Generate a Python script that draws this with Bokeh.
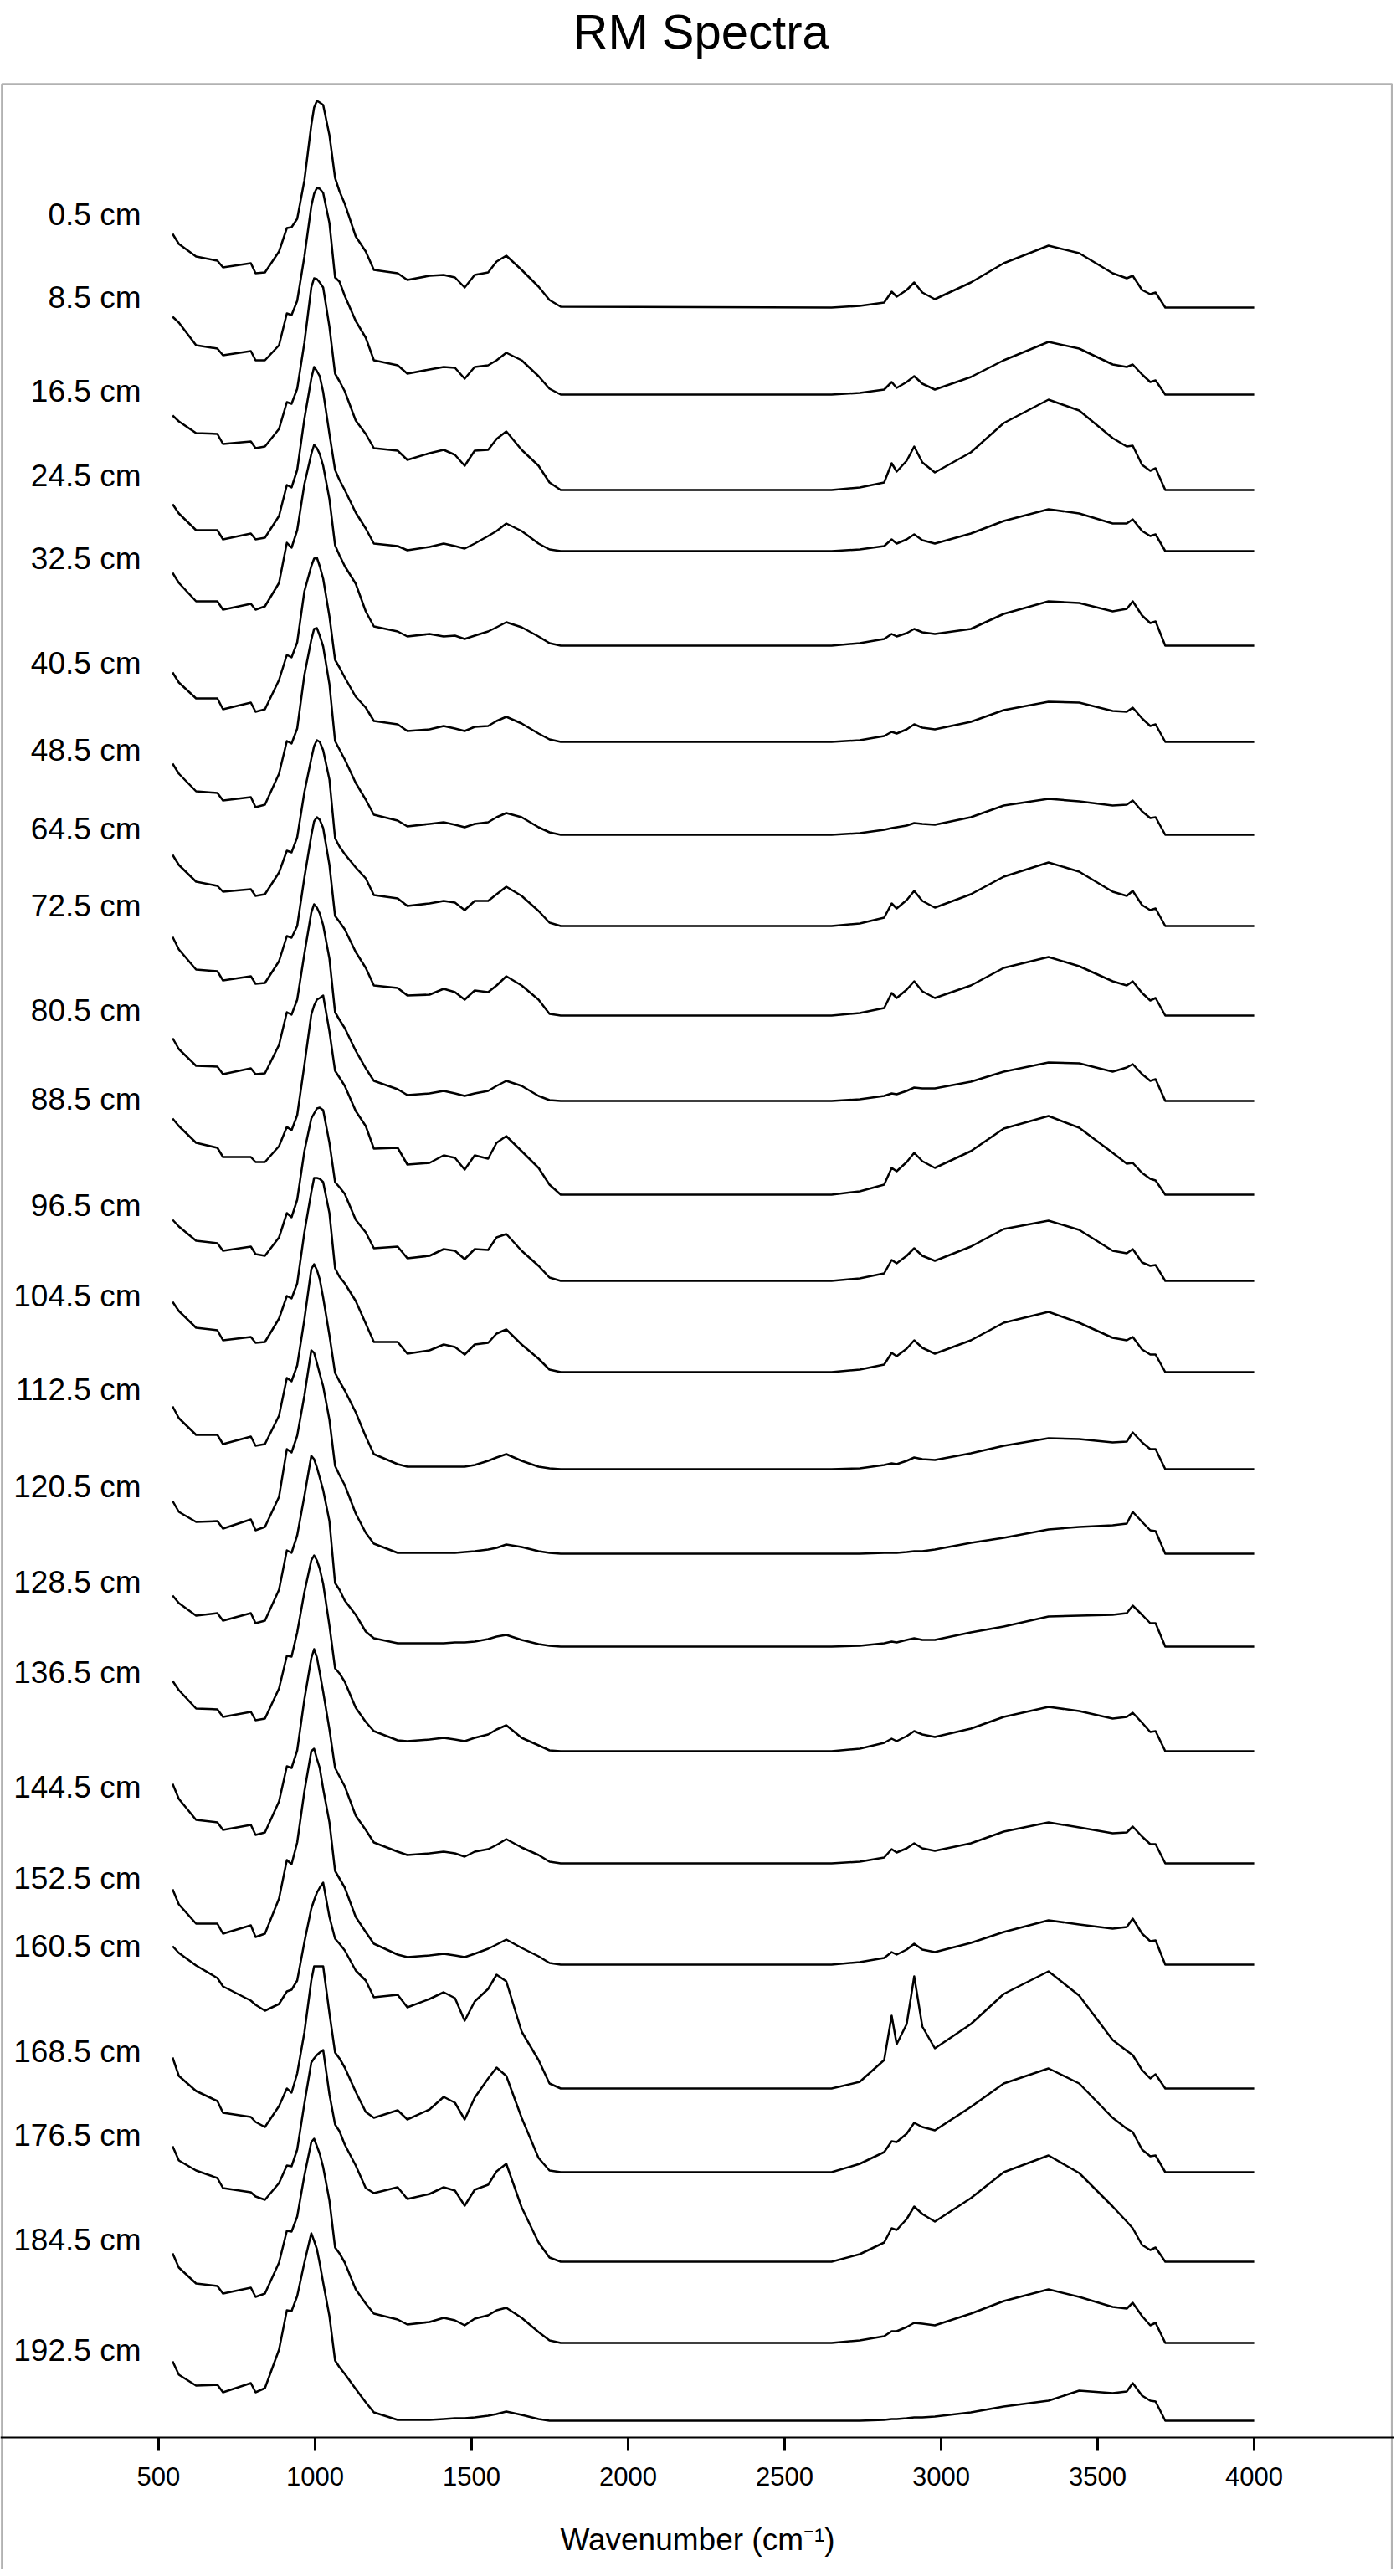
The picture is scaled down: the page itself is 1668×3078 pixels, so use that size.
from bokeh.plotting import figure
from bokeh.models import Range1d, LinearAxis, FixedTicker, BoxAnnotation, Label, ColumnDataSource
from bokeh.core.properties import value
from bokeh.embed import file_html
from bokeh.resources import INLINE

# ---------------- data ----------------
# wavenumber grid (cm-1) shared by all spectra
wavenumber = [545, 565, 620, 688, 706, 795, 810, 840, 885, 910, 925, 943, 966, 988, 997,
              1006, 1015, 1026, 1046, 1064, 1078, 1095, 1130, 1162, 1188, 1264, 1295, 1366,
              1411, 1447, 1478, 1510, 1553, 1580, 1611, 1660, 1714, 1749, 1785,
              2650, 2740, 2818, 2842, 2858, 2890, 2914, 2940, 2980, 3095, 3200, 3343, 3441,
              3548, 3593, 3612, 3642, 3668, 3685, 3716, 4000]

depth_labels = ["0.5 cm", "8.5 cm", "16.5 cm", "24.5 cm", "32.5 cm", "40.5 cm", "48.5 cm",
                "64.5 cm", "72.5 cm", "80.5 cm", "88.5 cm", "96.5 cm", "104.5 cm", "112.5 cm",
                "120.5 cm", "128.5 cm", "136.5 cm", "144.5 cm", "152.5 cm", "160.5 cm",
                "168.5 cm", "176.5 cm", "184.5 cm", "192.5 cm"]

# vertical stacking offset of each spectrum (a.u.)
baseline = [25.45, 24.41, 23.27, 22.54, 21.41, 20.26, 19.15, 18.06, 16.99, 15.97, 14.85, 13.82,
            12.73, 11.57, 10.56, 9.45, 8.20, 6.86, 5.65, 4.17, 3.17, 2.10, 1.13, 0.20]

# level of each depth label (a.u.)
label_level = [26.56, 25.57, 24.45, 23.44, 22.45, 21.20, 20.16, 19.22, 18.30, 17.05, 15.99, 14.72,
               13.64, 12.52, 11.36, 10.22, 9.14, 7.77, 6.68, 5.87, 4.61, 3.61, 2.36, 1.04]

tick_values = [500, 1000, 1500, 2000, 2500, 3000, 3500, 4000]

# absorbance above baseline, in 0.01 a.u.
a_0_5 = [88, 76, 61, 56, 48, 53, 41, 42, 67, 95, 96, 106, 152, 218, 239, 247, 245, 242, 206, 155, 139, 124, 85, 67, 45, 41, 33, 38, 39, 36, 24, 39, 42, 55, 62, 45, 25, 9, 1,
         0, 2, 6, 19, 13, 21, 30, 18, 10, 30, 53, 74, 65, 41, 35, 38, 21, 16, 18, 0, 0]
a_8_5 = [93, 86, 59, 55, 47, 52, 41, 41, 59, 97, 95, 112, 165, 225, 240, 247, 246, 241, 205, 140, 135, 118, 88, 68, 41, 35, 25, 30, 33, 32, 19, 33, 35, 41, 50, 41, 22, 7, 0,
         0, 2, 6, 15, 8, 15, 22, 13, 6, 21, 41, 63, 55, 36, 33, 36, 24, 15, 17, 0, 0]
a_16_5 = [89, 82, 68, 67, 55, 58, 50, 52, 73, 105, 103, 121, 176, 242, 253, 252, 248, 242, 195, 139, 130, 118, 83, 67, 50, 47, 36, 44, 48, 42, 29, 47, 48, 61, 70, 48, 29, 9, 0,
          0, 3, 9, 32, 22, 35, 52, 33, 21, 45, 80, 108, 95, 62, 52, 53, 30, 23, 26, 0, 0]
a_24_5 = [56, 45, 25, 25, 14, 21, 14, 16, 42, 79, 76, 97, 158, 206, 220, 215, 209, 190, 140, 97, 85, 73, 46, 27, 9, 6, 1, 5, 9, 6, 3, 9, 18, 24, 33, 24, 9, 2, 0,
          0, 2, 6, 14, 9, 14, 20, 13, 9, 21, 36, 50, 45, 33, 33, 38, 24, 18, 20, 0, 0]
a_32_5 = [87, 75, 53, 53, 43, 50, 43, 47, 75, 123, 117, 138, 193, 229, 240, 236, 229, 215, 175, 120, 108, 95, 74, 41, 23, 17, 11, 14, 11, 12, 8, 12, 17, 22, 28, 22, 11, 3, 0,
          0, 3, 8, 14, 11, 15, 20, 16, 14, 20, 38, 53, 51, 41, 44, 53, 36, 27, 29, 0, 0]
a_40_5 = [83, 71, 52, 52, 39, 47, 36, 39, 74, 104, 101, 119, 180, 210, 219, 220, 210, 195, 150, 98, 89, 77, 54, 41, 25, 21, 13, 15, 19, 16, 13, 18, 19, 25, 30, 22, 10, 3, 0,
          0, 2, 7, 12, 10, 15, 21, 17, 15, 24, 38, 48, 47, 37, 36, 41, 28, 19, 21, 0, 0]
a_48_5 = [85, 73, 52, 50, 41, 45, 33, 36, 73, 112, 109, 127, 191, 233, 246, 247, 238, 225, 180, 112, 102, 90, 62, 42, 24, 17, 10, 13, 15, 12, 9, 13, 15, 21, 26, 21, 9, 3, 0,
          0, 2, 6, 8, 9, 11, 14, 13, 12, 21, 35, 43, 40, 35, 36, 41, 28, 20, 21, 0, 0]
a_64_5 = [85, 73, 53, 48, 41, 44, 36, 38, 64, 90, 88, 106, 160, 200, 215, 222, 220, 210, 175, 105, 95, 86, 70, 57, 37, 33, 24, 27, 30, 28, 19, 30, 30, 38, 47, 36, 18, 4, 0,
          0, 3, 10, 27, 21, 31, 42, 30, 22, 38, 59, 76, 65, 41, 36, 42, 25, 19, 21, 0, 0]
a_72_5 = [94, 79, 55, 53, 42, 47, 38, 39, 65, 95, 93, 107, 165, 215, 232, 237, 234, 224, 180, 119, 112, 103, 76, 57, 36, 33, 24, 25, 32, 28, 19, 30, 28, 36, 47, 36, 19, 2, 0,
          0, 3, 9, 27, 21, 31, 41, 29, 21, 36, 57, 70, 59, 41, 36, 41, 27, 18, 21, 0, 0]
a_80_5 = [75, 62, 42, 41, 32, 39, 32, 33, 67, 106, 103, 121, 176, 225, 235, 231, 224, 210, 170, 106, 97, 87, 60, 39, 24, 14, 7, 9, 12, 9, 6, 9, 12, 18, 24, 18, 6, 1, 0,
          0, 2, 6, 9, 8, 12, 16, 15, 15, 23, 35, 46, 45, 35, 40, 44, 32, 24, 26, 0, 0]
a_88_5 = [91, 82, 62, 56, 45, 45, 39, 39, 58, 81, 77, 95, 155, 215, 226, 233, 235, 238, 195, 148, 140, 130, 100, 82, 55, 56, 36, 38, 47, 44, 30, 47, 43, 62, 70, 52, 32, 12, 0,
          0, 4, 12, 32, 28, 39, 50, 40, 32, 52, 79, 94, 80, 50, 37, 38, 26, 19, 17, 0, 0]
a_96_5 = [73, 65, 48, 45, 36, 41, 32, 30, 52, 81, 76, 97, 155, 194, 200, 206, 207, 204, 165, 118, 112, 104, 73, 58, 39, 41, 27, 30, 38, 36, 26, 38, 37, 52, 56, 36, 18, 4, 0,
          0, 3, 9, 25, 21, 30, 39, 30, 24, 41, 62, 72, 61, 36, 33, 38, 22, 18, 19, 0, 0]
a_104_5 = [84, 73, 53, 50, 38, 42, 35, 36, 64, 91, 88, 106, 167, 215, 232, 232, 231, 227, 190, 124, 114, 106, 85, 58, 36, 36, 22, 26, 33, 30, 21, 33, 35, 46, 51, 33, 16, 3, 0,
           0, 3, 9, 23, 19, 28, 38, 29, 22, 38, 59, 72, 59, 41, 38, 42, 27, 21, 21, 0, 0]
a_112_5 = [75, 61, 41, 41, 30, 39, 28, 30, 64, 109, 105, 124, 179, 239, 245, 238, 227, 205, 160, 115, 105, 94, 68, 39, 18, 6, 3, 3, 3, 3, 3, 5, 10, 14, 18, 10, 3, 1, 0,
           0, 1, 5, 7, 6, 10, 14, 12, 11, 19, 28, 37, 36, 32, 33, 44, 32, 24, 24, 0, 0]
a_120_5 = [63, 50, 38, 39, 30, 41, 28, 32, 68, 125, 121, 141, 189, 243, 240, 228, 215, 200, 160, 105, 94, 82, 48, 25, 12, 1, 1, 1, 1, 1, 2, 3, 5, 7, 11, 8, 3, 1, 0,
           0, 0, 1, 1, 1, 2, 3, 3, 5, 13, 19, 29, 32, 34, 36, 50, 38, 28, 27, 0, 0]
a_128_5 = [61, 52, 37, 40, 31, 40, 28, 31, 68, 115, 112, 133, 180, 228, 224, 214, 202, 187, 150, 76, 68, 55, 38, 18, 10, 4, 4, 4, 4, 5, 5, 6, 9, 12, 14, 8, 3, 1, 0,
           0, 1, 4, 6, 5, 8, 10, 8, 8, 17, 24, 36, 37, 38, 40, 49, 38, 28, 28, 0, 0]
a_136_5 = [84, 73, 51, 50, 41, 47, 37, 39, 75, 114, 113, 142, 190, 228, 234, 228, 218, 200, 150, 99, 93, 83, 52, 35, 24, 13, 12, 14, 16, 14, 12, 16, 20, 26, 31, 16, 7, 1, 0,
           0, 3, 10, 15, 12, 18, 24, 20, 17, 27, 41, 53, 48, 39, 41, 46, 34, 23, 24, 0, 0]
a_144_5 = [95, 77, 52, 49, 40, 46, 34, 37, 74, 116, 114, 135, 196, 245, 256, 246, 228, 205, 160, 114, 104, 92, 57, 40, 25, 14, 10, 12, 14, 12, 8, 14, 17, 22, 29, 19, 10, 2, 0,
           0, 2, 7, 17, 13, 18, 24, 18, 15, 24, 38, 49, 43, 36, 37, 44, 32, 23, 23, 0, 0]
a_152_5 = [90, 72, 49, 49, 37, 47, 33, 37, 79, 125, 120, 146, 207, 255, 258, 246, 235, 210, 170, 112, 103, 92, 57, 39, 25, 12, 9, 11, 13, 11, 9, 13, 19, 24, 30, 20, 10, 2, 0,
           0, 3, 8, 15, 12, 18, 25, 18, 15, 26, 39, 53, 48, 43, 45, 55, 37, 28, 29, 0, 0]
a_160_5 = [170, 162, 147, 132, 122, 105, 100, 93, 101, 116, 118, 129, 175, 215, 225, 234, 240, 246, 205, 179, 173, 165, 141, 129, 109, 112, 97, 107, 115, 108, 81, 104, 119, 136, 128, 68, 34, 6, 0,
           0, 8, 34, 87, 53, 77, 134, 74, 48, 77, 113, 140, 111, 58, 45, 40, 22, 12, 17, 0, 0]
a_168_5 = [137, 115, 97, 85, 71, 66, 60, 54, 79, 100, 95, 118, 167, 229, 246, 246, 246, 246, 190, 143, 136, 125, 96, 72, 65, 74, 63, 75, 90, 83, 63, 89, 112, 125, 115, 65, 17, 2, 0,
           0, 10, 24, 37, 36, 46, 59, 54, 50, 78, 106, 124, 106, 65, 52, 48, 27, 19, 20, 0, 0]
a_176_5 = [138, 121, 109, 100, 88, 83, 78, 74, 94, 115, 114, 134, 189, 238, 243, 247, 250, 253, 200, 164, 156, 140, 115, 88, 82, 89, 75, 81, 89, 85, 67, 86, 92, 108, 117, 65, 23, 5, 0,
           0, 9, 23, 40, 38, 51, 66, 57, 48, 76, 107, 127, 106, 66, 48, 40, 20, 14, 17, 0, 0]
a_184_5 = [107, 90, 71, 68, 59, 66, 55, 59, 96, 134, 133, 151, 200, 240, 244, 235, 226, 210, 170, 114, 107, 96, 64, 47, 35, 28, 22, 25, 30, 27, 21, 29, 33, 39, 42, 30, 13, 3, 0,
           0, 3, 8, 14, 14, 19, 24, 23, 21, 35, 50, 64, 55, 43, 41, 48, 32, 21, 24, 0, 0]
a_192_5 = [71, 55, 42, 43, 34, 45, 34, 39, 85, 132, 131, 149, 189, 224, 215, 205, 188, 165, 125, 72, 64, 56, 38, 22, 10, 1, 1, 1, 2, 3, 3, 4, 6, 8, 11, 7, 2, 0, 0,
           0, 0, 1, 2, 2, 3, 4, 4, 5, 10, 17, 24, 36, 33, 35, 45, 30, 24, 23, 0, 0]

spectra = [a_0_5, a_8_5, a_16_5, a_24_5, a_32_5, a_40_5, a_48_5, a_64_5, a_72_5, a_80_5,
           a_88_5, a_96_5, a_104_5, a_112_5, a_120_5, a_128_5, a_136_5, a_144_5, a_152_5,
           a_160_5, a_168_5, a_176_5, a_184_5, a_192_5]

# ---------------- plot ----------------
FONT = "Liberation Sans"
X0, X1 = -5, 4449          # visible wavenumber span of the canvas
Y0, Y1 = -1.58, 29.12      # visible absorbance span of the canvas
BOX_LEFT, BOX_RIGHT, BOX_TOP = 0, 4440, 28.12
LABEL_X = 444

p = figure(width=1666, height=3070, output_backend="svg", toolbar_location=None,
           x_range=Range1d(X0, X1), y_range=Range1d(Y0, Y1),
           x_axis_location=None, y_axis_location=None, min_border=0, title=None)
p.grid.visible = False
p.outline_line_color = None
p.background_fill_color = "white"
p.border_fill_color = "white"

ys = [[b + v / 100.0 for v in s] for b, s in zip(baseline, spectra)]
src = ColumnDataSource(dict(xs=[wavenumber] * len(spectra), ys=ys))
p.multi_line(xs="xs", ys="ys", source=src, line_color="black", line_width=2.5,
             line_join="round")

lab_src = ColumnDataSource(dict(x=[LABEL_X] * len(depth_labels), y=label_level, t=depth_labels))
p.text(x="x", y="y", text="t", source=lab_src, text_align="right", text_baseline="middle",
       text_font=value(FONT), text_font_size=value("37px"), text_color="black")

box = BoxAnnotation(left=BOX_LEFT, right=BOX_RIGHT, top=BOX_TOP, bottom=Y0 - 5, fill_color=None,
                    line_color="black", line_width=2.5)
p.add_layout(box)

title = Label(x=2233, y=28.75, text="RM Spectra", text_align="center",
              text_baseline="alphabetic", text_font=FONT, text_font_size="58px",
              text_color="black")
p.add_layout(title)

xaxis = LinearAxis(fixed_location=0, ticker=FixedTicker(ticks=tick_values, minor_ticks=[]),
                   axis_label="Wavenumber (cm\u207b\u00b9)")
xaxis.axis_line_color = "black"
xaxis.axis_line_width = 2
xaxis.major_tick_line_color = "black"
xaxis.major_tick_line_width = 3
xaxis.major_tick_out = 16
xaxis.major_tick_in = 0
xaxis.minor_tick_line_color = None
xaxis.major_label_text_font = FONT
xaxis.major_label_text_font_size = "31px"
xaxis.major_label_text_color = "black"
xaxis.major_label_standoff = 19
xaxis.axis_label_text_font = FONT
xaxis.axis_label_text_font_size = "37px"
xaxis.axis_label_text_font_style = "normal"
xaxis.axis_label_text_color = "black"
xaxis.axis_label_standoff = 41
p.add_layout(xaxis, "below")

open("out.html", "w").write(file_html(p, INLINE))
